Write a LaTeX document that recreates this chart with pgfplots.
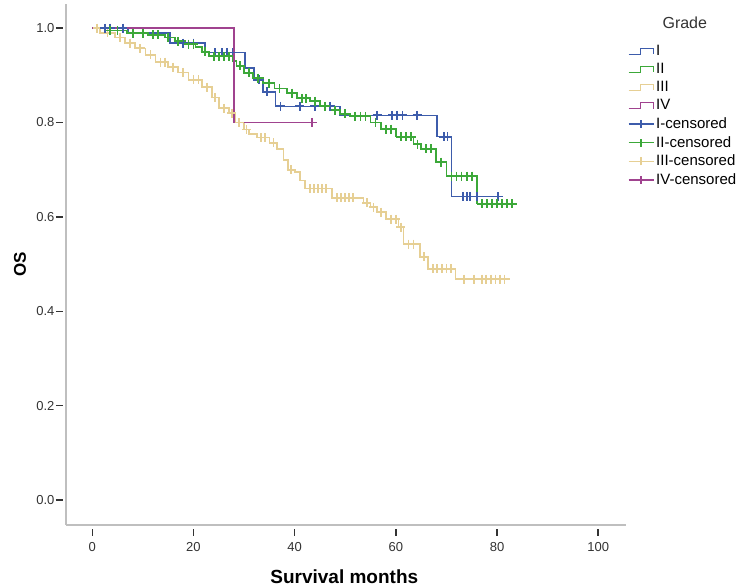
\documentclass[border=0pt]{standalone}
\usepackage{pgfplots}
\pgfplotsset{compat=1.18}
\usepackage{fontspec}
\setmainfont{Liberation Sans}
\definecolor{cI}{HTML}{3D5CAB}
\definecolor{cII}{HTML}{3CA839}
\definecolor{cIII}{HTML}{E6CF94}
\definecolor{cIV}{HTML}{A0438F}
\definecolor{tk}{HTML}{333333}
\pgfplotsset{
  steplegend/.style={legend image code/.code={\draw[##1] (0pt,-3pt) -- (12pt,-3pt) -- (12pt,3pt) -- (25pt,3pt) -- (25pt,-3pt);}},
  censlegend/.style={legend image code/.code={\draw[##1] (0pt,0pt) -- (25pt,0pt); \draw[##1] (12.5pt,-4pt) -- (12.5pt,4pt);}},
  km/.style={const plot, no marks, line width=1.7pt},
  cens/.style={only marks, mark=+, mark size=4.5pt, mark options={line width=1.8pt}},
}
\begin{document}
\begin{tikzpicture}
\useasboundingbox (-66pt,-63pt) rectangle (679pt,525pt);
\begin{axis}[
  at={(0pt,0pt)}, anchor=south west,
  width=560pt, height=521pt, scale only axis,
  xmin=-5.2, xmax=105.5, ymin=-0.053, ymax=1.051,
  axis x line*=bottom, axis y line*=left,
  axis line style={-, draw=black!25, line width=1.3pt},
  clip=false,
  xtick={0,20,40,60,80,100},
  ytick={0,0.2,0.4,0.6,0.8,1},
  tick align=outside,
  major tick length=7pt,
  every tick/.style={tk, line width=1.4pt},
  xtick style={yshift=-4pt},
  ytick style={xshift=-3pt},
  /pgf/number format/assume math mode=true,
  yticklabel style={/pgf/number format/fixed, /pgf/number format/fixed zerofill, /pgf/number format/precision=1, font=\fontsize{13}{15}\selectfont, text=tk, xshift=-1pt},
  xticklabel style={font=\fontsize{13}{15}\selectfont, text=tk, yshift=-7pt},
  xlabel={\textbf{Survival months}},
  ylabel={\textbf{OS}},
  xlabel style={font=\fontsize{19}{21}\selectfont, at={(axis description cs:0.497,-0.1)}, anchor=center},
  ylabel style={font=\fontsize{17}{19}\selectfont, at={(axis description cs:-0.082,0.5)}, anchor=center, rotate=0},
  legend style={at={(axis description cs:1.003,0.925)}, anchor=north west, draw=none, fill=none,
    font=\fontsize{15}{17}\selectfont, row sep=2.3pt, inner sep=0pt,
    /tikz/every even column/.append style={column sep=3pt}},
  legend cell align=left,
]
% Grade III
\addplot[km, cIII, forget plot] coordinates {
(0,1.000) (1.5,0.990) (4.5,0.980) (6.5,0.968) (8.5,0.957) (10.5,0.943) (12.5,0.928)
(15,0.917) (17,0.906) (19,0.890) (21.7,0.875) (23.7,0.853) (25,0.830) (27,0.820)
(28.3,0.800) (30,0.785) (31,0.775) (32.5,0.768) (35,0.757) (36.5,0.743) (37.8,0.720)
(38.7,0.700) (40,0.695) (41,0.677) (42,0.660) (47.4,0.640) (53.6,0.630) (55,0.620)
(56.3,0.610) (58,0.595) (60.5,0.578) (61.5,0.542) (64.8,0.515) (66.4,0.490) (71.8,0.468) (82.6,0.468)};
\addplot[cens, cIII, forget plot] coordinates {
(1,1.0) (3,0.99) (5.5,0.98) (7.5,0.968) (9.5,0.957) (11.5,0.943) (13.5,0.928) (14.3,0.928)
(16,0.917) (18,0.906) (20,0.890) (21,0.890) (22.7,0.875) (24.3,0.853) (26,0.830) (27.6,0.820)
(29,0.800) (30.5,0.785) (33.3,0.768) (34.2,0.768) (35.8,0.757) (39.3,0.700)
(43,0.660) (43.8,0.660) (44.6,0.660) (45.4,0.660) (46.2,0.660)
(48.3,0.640) (49.1,0.640) (49.9,0.640) (50.7,0.640) (51.5,0.640)
(54.3,0.630) (55.6,0.620) (57,0.610) (59,0.595) (60,0.595) (61,0.578) (62.5,0.542) (63.5,0.542)
(65.6,0.515) (67.3,0.490) (68.2,0.490) (69.1,0.490) (70,0.490) (70.9,0.490)
(73.5,0.468) (75.5,0.468) (77,0.468) (77.9,0.468) (78.8,0.468) (79.7,0.468) (80.6,0.468) (81.5,0.468)};
% Grade I
\addplot[km, cI, forget plot] coordinates {
(0,1.000) (7,0.989) (15.4,0.968) (22.3,0.948) (30.2,0.915) (32,0.890) (33.8,0.865)
(36.2,0.834) (49,0.815) (68.2,0.770) (71,0.643) (80.5,0.643)};
\addplot[cens, cI, forget plot] coordinates {
(2.5,1.0) (3.5,1.0) (6,1.0) (18,0.968) (20,0.968) (24.3,0.948) (25.7,0.948) (26.7,0.948) (27.7,0.948)
(33,0.890) (34.5,0.865) (37.2,0.834) (41,0.834) (44,0.834) (47,0.834)
(56.3,0.815) (59.3,0.815) (60.3,0.815) (61.3,0.815) (64.2,0.815) (69.5,0.770) (70.2,0.770)
(73.3,0.643) (74.1,0.643) (74.7,0.643) (76.1,0.643) (80.2,0.643)};
% Grade II
\addplot[km, cII, forget plot] coordinates {
(0,1.000) (2.6,0.995) (6.9,0.989) (11,0.986) (14.4,0.980) (16.4,0.972) (18.4,0.966)
(20.4,0.960) (21.7,0.950) (23,0.940) (27.7,0.930) (28.5,0.920) (30,0.905) (31.8,0.894)
(33.8,0.883) (36,0.872) (38.5,0.862) (40.5,0.851) (43,0.845) (45,0.834) (47,0.826)
(49,0.818) (51,0.813) (55,0.800) (57,0.786) (60,0.770) (63.5,0.754) (65,0.744)
(68,0.716) (70,0.686) (76,0.628) (84,0.628)};
\addplot[cens, cII, forget plot] coordinates {
(3.5,0.995) (5,0.995) (8,0.989) (10,0.989) (12,0.986) (13,0.986) (15,0.980) (17,0.972)
(19,0.966) (20,0.966) (22.3,0.950) (24,0.940) (25,0.940) (26,0.940) (27,0.940) (29.2,0.920)
(31,0.905) (32.8,0.894) (35,0.883) (37,0.872) (39.5,0.862) (41.5,0.851) (42.3,0.851)
(44,0.845) (46,0.834) (48,0.826) (50,0.818) (52,0.813) (53,0.813) (54,0.813) (56,0.800)
(58,0.786) (59,0.786) (61,0.770) (62,0.770) (63,0.770) (64.3,0.754) (66,0.744) (67,0.744)
(69,0.716) (71,0.686) (72,0.686) (73,0.686) (74,0.686) (75,0.686)
(77,0.628) (78,0.628) (79,0.628) (80,0.628) (81,0.628) (82,0.628) (83,0.628)};
% Grade IV
\addplot[km, cIV, forget plot] coordinates {(0,1.0) (28,0.8) (43.5,0.8)};
\addplot[cens, cIV, forget plot] coordinates {(43.5,0.8)};
% legend
\addlegendimage{cI, line width=1.3pt, steplegend}
\addlegendentry{I}
\addlegendimage{cII, line width=1.3pt, steplegend}
\addlegendentry{II}
\addlegendimage{cIII, line width=1.3pt, steplegend}
\addlegendentry{III}
\addlegendimage{cIV, line width=1.3pt, steplegend}
\addlegendentry{IV}
\addlegendimage{cI, line width=1.3pt, censlegend}
\addlegendentry{I-censored}
\addlegendimage{cII, line width=1.3pt, censlegend}
\addlegendentry{II-censored}
\addlegendimage{cIII, line width=1.3pt, censlegend}
\addlegendentry{III-censored}
\addlegendimage{cIV, line width=1.3pt, censlegend}
\addlegendentry{IV-censored}
\node[font=\fontsize{16}{18}\selectfont, text=tk] at (axis description cs:1.105,0.9635) {Grade};
\end{axis}
\end{tikzpicture}
\end{document}
